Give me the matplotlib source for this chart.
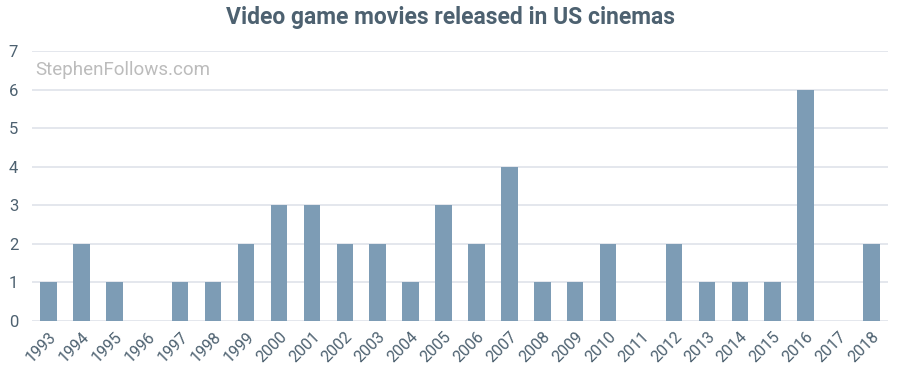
import matplotlib.pyplot as plt

# ---------- Datos ----------
years = [str(y) for y in range(1993, 2019)]
movies = [1, 2, 1, 0, 1, 1, 2, 3, 3, 2, 2, 1, 3, 2, 4, 1, 1, 2, 0, 2, 1, 1, 1, 6, 0, 2]
y_ticks = list(range(0, 8))

title = "Video game movies released in US cinemas"
watermark = "StephenFollows.com"

bar_color = "#7d9cb5"
text_color = "#4d6170"
grid_color = "#dfe3ea"

plt.rcParams["font.family"] = ["Roboto", "DejaVu Sans"]

fig = plt.figure(figsize=(9, 3.89), dpi=100)
ax = fig.add_axes([0.0356, 0.1748, 0.951, 0.694])

x = range(len(years))
ax.bar(x, movies, width=0.5, color=bar_color, zorder=3)

ax.set_xlim(-0.5, len(years) - 0.5)
ax.set_ylim(0, 7)
ax.set_yticks(y_ticks)
ax.set_xticks(list(x))
ax.set_xticklabels(years, rotation=45, ha="right", rotation_mode="anchor")

ax.grid(axis="y", color=grid_color, lw=1.2, zorder=0)
for s in ax.spines.values():
    s.set_visible(False)
ax.tick_params(axis="both", length=0, colors=text_color)
ax.tick_params(axis="y", pad=10, labelsize=12)
ax.tick_params(axis="x", pad=6, labelsize=11.5)

fig.text(0.5, 0.955, title, ha="center", va="center", fontsize=16.5,
         fontweight="bold", color=text_color)
ax.text(0.004, 0.93, watermark, transform=ax.transAxes, ha="left", va="center",
        fontsize=13.5, color="#bcbcbc")

fig.savefig("out.png", dpi=100)
